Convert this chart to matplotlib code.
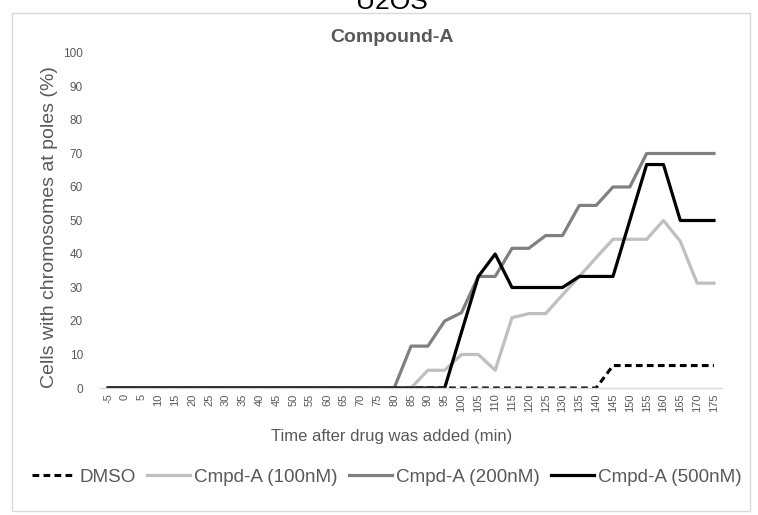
import numpy as np
import matplotlib
matplotlib.use('Agg')
import matplotlib.pyplot as plt
from matplotlib.patches import Rectangle

plt.rcParams['font.family'] = ['Liberation Sans', 'DejaVu Sans']

# 时间点 (min)
times = list(range(-5, 180, 5))

dmso = [0] * 30 + [6.7] * 7
cmpd_100 = [0] * 19 + [5.3, 5.3, 10, 10, 5.3, 21, 22.2, 22.2, 27.8, 33.3, 38.9,
                       44.4, 44.4, 44.4, 50, 43.8, 31.3, 31.3]
cmpd_200 = [0] * 18 + [12.5, 12.5, 20, 22.5, 33.3, 33.3, 41.7, 41.7, 45.5, 45.5,
                       54.5, 54.5, 60, 60, 70, 70, 70, 70, 70]
cmpd_500 = [0] * 21 + [16.7, 33.3, 40, 30, 30, 30, 30, 33.3, 33.3, 33.3, 50,
                       66.7, 66.7, 50, 50, 50]

series_names = ['DMSO', 'Cmpd-A (100nM)', 'Cmpd-A (200nM)', 'Cmpd-A (500nM)']

text_color = '#595959'
center_x = 392 / 758  # 标题、坐标轴标签共用的水平中心

fig = plt.figure(figsize=(7.58, 5.15), dpi=100)
ax = fig.add_axes([0.1315, 0.2466, 0.8215, 0.6505])

x = np.arange(len(times))
ax.plot(x, dmso, color='black', lw=2.2, ls=(0, (2.2, 1.4)), label=series_names[0])
ax.plot(x, cmpd_100, color='#BFBFBF', lw=2.3, label=series_names[1])
ax.plot(x, cmpd_200, color='#808080', lw=2.3, label=series_names[2])
ax.plot(x, cmpd_500, color='black', lw=2.3, label=series_names[3])

ax.set_xlim(-0.5, len(times) - 0.5)
ax.set_ylim(0, 100)
ax.set_yticks(range(0, 101, 10))
ax.set_xticks(x)
ax.set_xticklabels([str(t) for t in times], rotation=90, fontsize=8, color=text_color)
ax.tick_params(axis='y', length=0, labelsize=8.5, labelcolor=text_color, pad=12)
ax.tick_params(axis='x', length=0, pad=4)

for side in ['top', 'right', 'left']:
    ax.spines[side].set_visible(False)
ax.spines['bottom'].set_color('#D9D9D9')
ax.spines['bottom'].set_linewidth(1)

ax.set_ylabel('Cells with chromosomes at poles (%)', fontsize=14, color=text_color)
ax.yaxis.set_label_coords(-0.067, 0.48)
ax.set_xlabel('Time after drug was added (min)', fontsize=12, color=text_color)
ax.xaxis.set_label_coords((391 - 99.7) / 622.3, -0.122)

fig.text(center_x, 1 - 37 / 515, 'Compound-A', ha='center', va='center',
         fontsize=14, fontweight='bold', color=text_color)

fig.legend(loc='center', bbox_to_anchor=(387 / 758, 1 - 477 / 515), ncol=4, frameon=False,
           fontsize=13.6, handlelength=2.3, columnspacing=0.58, handletextpad=0.2,
           labelcolor=text_color)

# 图表外框
fig.patches.append(Rectangle((12 / 758, 1 - 511 / 515), 738 / 758, 498 / 515,
                             transform=fig.transFigure, fill=False,
                             edgecolor='#D9D9D9', lw=1))

fig.text(center_x, 1 - 9 / 515, 'U2OS', ha='center', va='baseline', fontsize=19, color='black')

fig.savefig('out.png', dpi=100)
plt.close(fig)
